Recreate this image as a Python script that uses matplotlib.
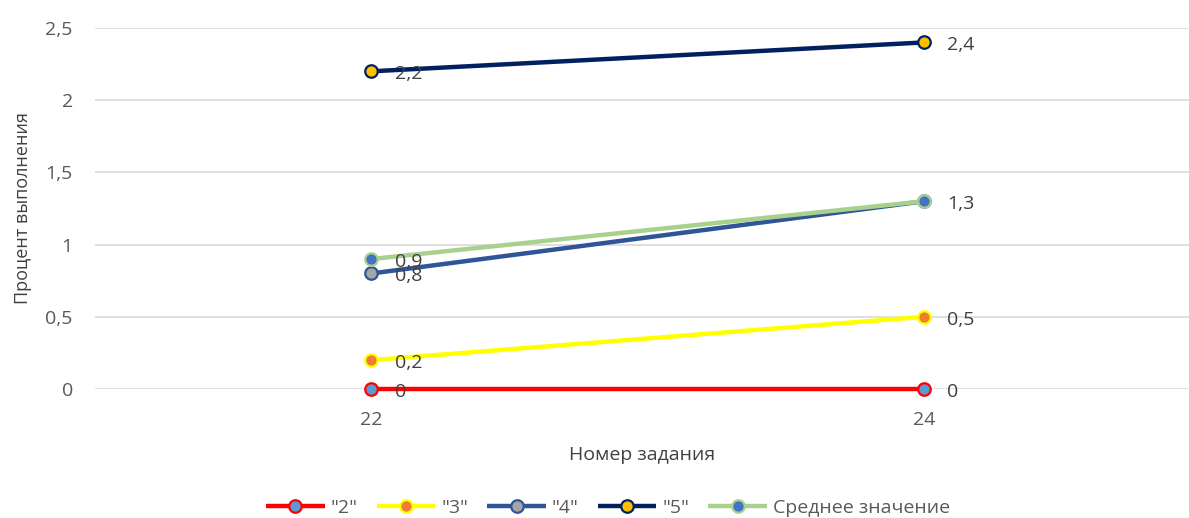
import matplotlib
matplotlib.use("Agg")
import matplotlib.pyplot as plt

plt.rcParams['font.family'] = ['Open Sans', 'DejaVu Sans']

categories = ["22", "24"]
series_names = ['"2"', '"3"', '"4"', '"5"', 'Среднее значение']
s2 = [0, 0]
s3 = [0.2, 0.5]
s4 = [0.8, 1.3]
s5 = [2.2, 2.4]
avg = [0.9, 1.3]
labels2 = ["0", "0"]
labels3 = ["0,2", "0,5"]
labels4 = ["0,8", "1,3"]
labels5 = ["2,2", "2,4"]
labels_avg = ["0,9", ""]
yticks = [0, 0.5, 1, 1.5, 2, 2.5]
ytick_labels = ["0", "0,5", "1", "1,5", "2", "2,5"]

styles = [
    dict(color="#FF0000", mfc="#5B9BD5", mec="#FF0000"),
    dict(color="#FFFF00", mfc="#ED7D31", mec="#FFFF00"),
    dict(color="#2F5597", mfc="#A5A5A5", mec="#2F5597"),
    dict(color="#002060", mfc="#FFC000", mec="#002060"),
    dict(color="#A9D18E", mfc="#4472C4", mec="#A9D18E"),
]

fig = plt.figure(figsize=(11.89, 5.18), dpi=100)
ax = fig.add_axes([95/1189, 1 - 389/518, 1 - 95/1189, (389 - 28)/518])

x = list(range(len(categories)))
all_series = [s2, s3, s4, s5, avg]
all_labels = [labels2, labels3, labels4, labels5, labels_avg]
handles = []
for i in range(5):
    st = styles[i]
    h, = ax.plot(x, all_series[i], color=st["color"], lw=3.2, marker="o", ms=9,
                 mfc=st["mfc"], mec=st["mec"], mew=1.6, label=series_names[i],
                 zorder=3 + i * 0.1, solid_capstyle="butt", clip_on=False)
    handles.append(h)
    for xi, yi, lab in zip(x, all_series[i], all_labels[i]):
        if lab:
            ax.annotate(lab, (xi, yi), xytext=(17, -2), textcoords="offset points",
                        ha="left", va="center", fontsize=14, color="#404040", zorder=10)

ax.set_xlim(-0.5, 1.48)
ax.set_ylim(0, 2.5)
ax.set_yticks(yticks)
ax.set_yticklabels(ytick_labels)
ax.set_xticks(x)
ax.set_xticklabels(categories)
ax.tick_params(axis="both", length=0, labelsize=14, labelcolor="#595959")
ax.tick_params(axis="y", pad=16)
ax.tick_params(axis="x", pad=16)
ax.grid(axis="y", color="#D9D9D9", lw=1.2)
ax.set_axisbelow(True)
for sp in ax.spines.values():
    sp.set_visible(False)

ax.set_xlabel("Номер задания", fontsize=14, color="#404040", labelpad=12)
ax.set_ylabel("Процент выполнения", fontsize=13, color="#404040", labelpad=10)

fig.legend(handles=handles, loc="center", bbox_to_anchor=(608/1189, 1 - 508/518),
           ncol=5, frameon=False, fontsize=14, labelcolor="#595959",
           handlelength=3.0, columnspacing=1.0, handletextpad=0.3)

fig.savefig("out.png", dpi=100)
